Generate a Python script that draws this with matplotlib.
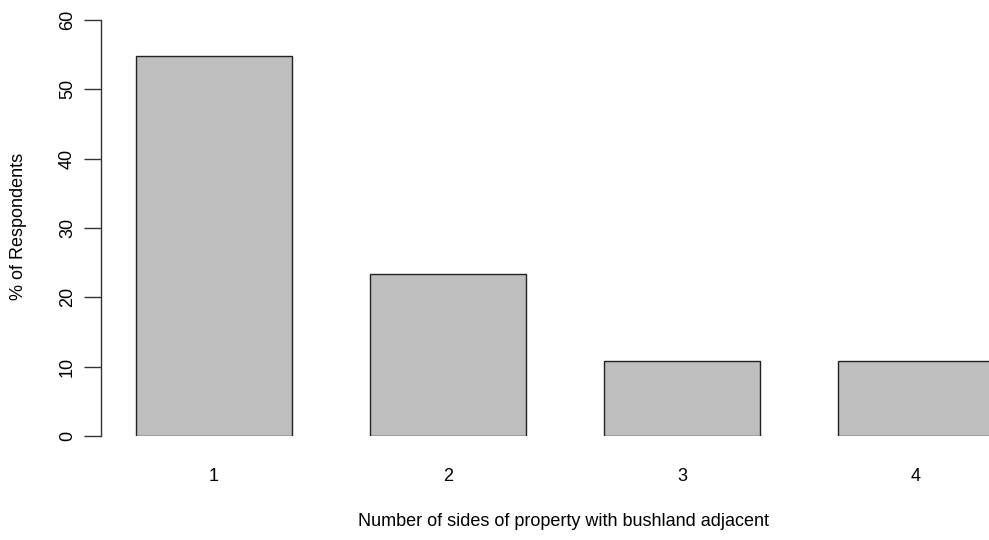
import matplotlib.pyplot as plt

plt.rcParams['font.family'] = ['Liberation Sans', 'DejaVu Sans']

# data
categories = ['1', '2', '3', '4']
percent = [54.8, 23.4, 10.8, 10.8]

fig = plt.figure(figsize=(9.89, 5.40), dpi=100)
ax = fig.add_axes([101 / 989, 104 / 540, 888 / 989, 416 / 540])

pos = list(range(1, len(categories) + 1))
ax.bar(pos, percent, width=0.667, color='#BEBEBE', edgecolor='#222222', linewidth=1.0)

ax.set_xlim(0.517, 4.312)
ax.set_ylim(0, 60)
ax.set_xticks(pos)
ax.set_xticklabels(categories, fontsize=13)
ax.tick_params(axis='x', length=0, pad=23)

ax.set_yticks([0, 10, 20, 30, 40, 50, 60])
ax.set_yticklabels(['0', '10', '20', '30', '40', '50', '60'], rotation=90, va='center', fontsize=13)
ax.tick_params(axis='y', length=12, width=1.0, color='#333333', pad=6)

for s in ['top', 'right', 'bottom']:
    ax.spines[s].set_visible(False)
ax.spines['left'].set_color('#333333')
ax.spines['left'].set_linewidth(1.0)

fig.text(19 / 989, 1 - 226 / 540, '% of Respondents', rotation=90, ha='center', va='center', fontsize=13)
fig.text(564 / 989, 1 - 522 / 540, 'Number of sides of property with bushland adjacent',
         ha='center', va='center', fontsize=13)

fig.savefig('out.png', dpi=100)
